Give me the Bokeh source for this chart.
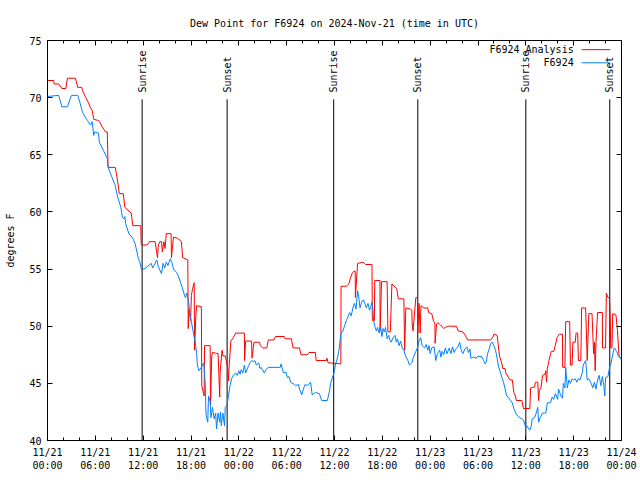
from math import pi
from bokeh.plotting import figure
from bokeh.models import (FixedTicker, LinearAxis, Range1d, Label)
from bokeh.embed import file_html
from bokeh.resources import INLINE

# ---------------- data (hours since 2024-11-21 00:00 UTC, degrees F) -------------
obs_hours = [0.0, 1.4, 1.8, 2.5, 3.0, 3.8, 4.1, 4.4, 5.0, 5.4, 5.6, 5.8, 5.9, 6.4, 6.5, 7.0, 7.5, 7.6,
             8.1, 8.5, 8.8, 9.2, 9.4, 9.6, 9.7, 9.8, 10.2, 10.7, 11.0, 11.4, 11.6, 11.8, 12.3, 13.0,
             13.2, 13.7, 13.9, 14.3, 14.5, 14.7, 14.9, 15.1, 15.4, 15.6, 15.8, 16.2, 16.4, 16.7, 16.9,
             17.1, 17.3, 17.5, 17.7, 17.9, 18.1, 18.3, 18.5, 18.7, 18.8, 19.0, 19.3, 19.6, 19.8, 19.85,
             19.9, 20.1, 20.2, 20.4, 20.5, 20.7, 20.9, 21.1, 21.2, 21.4, 21.6, 21.7, 21.8, 22.0, 22.2,
             22.3, 22.5, 22.7, 22.9, 23.1, 23.3, 23.6, 23.8, 24.0, 24.15, 24.3, 24.5, 24.7, 24.85, 25.2,
             25.4, 25.6, 25.8, 26.0, 26.2, 26.5, 26.65, 26.8, 27.2, 27.4, 27.7, 29.2, 29.3, 29.6, 29.9,
             30.1, 30.3, 30.5, 31.0, 31.1, 31.5, 31.6, 31.9, 32.1, 32.3, 32.6, 33.0, 33.2, 33.6, 34.1,
             34.4, 35.1, 35.4, 35.5, 35.7, 36.0, 36.1, 36.4, 36.6, 36.8, 37.0, 37.3, 37.5, 37.9, 38.1,
             38.3, 38.5, 38.7, 38.9, 39.05, 39.2, 39.4, 39.6, 39.8, 40.0, 40.2, 40.4, 40.55, 40.7, 40.8,
             40.9, 41.1, 41.25, 41.4, 41.6, 41.8, 41.95, 42.1, 42.25, 42.4, 42.6, 42.8, 42.95, 43.1,
             43.35, 43.6, 43.75, 43.9, 44.1, 44.3, 44.5, 44.7, 44.9, 45.2, 45.4, 45.7, 45.9, 46.2, 46.4,
             46.6, 46.8, 47.0, 47.3, 47.5, 47.7, 47.85, 48.0, 48.2, 48.5, 48.7, 48.9, 49.2, 49.35, 49.5,
             49.7, 49.9, 50.1, 50.4, 50.6, 50.8, 51.0, 51.2, 51.5, 51.7, 51.9, 52.1, 52.35, 52.6, 52.8,
             53.0, 53.1, 53.4, 53.8, 54.0, 54.3, 54.4, 54.7, 54.9, 55.05, 55.2, 55.4, 55.6, 55.8, 56.0,
             56.2, 56.4, 56.6, 56.8, 57.0, 57.2, 57.4, 57.6, 57.9, 58.0, 58.3, 58.5, 58.8, 59.2, 59.5,
             59.7, 60.0, 60.1, 60.3, 60.5, 60.7, 60.8, 61.1, 61.3, 61.5, 61.6, 61.8, 62.1, 62.5, 62.7,
             63.1, 63.3, 63.5, 63.7, 64.0, 64.1, 64.4, 64.6, 64.7, 64.9, 65.0, 65.2, 65.4, 65.6, 65.8,
             66.0, 66.2, 66.4, 66.6, 66.8, 67.1, 67.2, 67.5, 67.6, 67.7, 67.9, 68.2, 68.4, 68.6, 68.8,
             69.0, 69.2, 69.4, 69.6, 69.8, 69.9, 70.0, 70.3, 70.5, 70.7, 71.0, 71.1, 71.4, 71.6, 71.9,
             72.0]
obs_dewpt = [70.1, 70.2, 69.2, 69.2, 70.2, 70.2, 69.5, 68.7, 68.0, 67.6, 67.9, 66.7, 67.0, 66.9, 66.1,
             65.4, 64.7, 63.9, 63.0, 62.3, 61.3, 60.4, 59.5, 59.4, 59.6, 59.0, 58.1, 57.7, 57.2, 55.9,
             55.6, 54.9, 55.1, 55.5, 55.1, 55.8, 55.2, 54.6, 55.5, 55.1, 55.6, 55.3, 55.9, 55.6, 55.0,
             54.7, 54.4, 53.8, 53.4, 52.9, 52.5, 52.9, 52.1, 50.9, 50.2, 49.4, 48.7, 47.7, 46.6, 46.1,
             46.4, 46.8, 44.8, 43.1, 42.2, 41.6, 43.9, 43.4, 42.0, 42.9, 41.9, 42.4, 41.0, 42.4, 41.6,
             42.5, 41.3, 42.4, 41.3, 42.9, 43.1, 43.9, 44.8, 45.4, 45.7, 45.9, 45.7, 46.1, 45.8, 46.2,
             45.9, 46.6, 45.9, 46.5, 46.8, 47.0, 46.9, 47.0, 46.6, 46.8, 46.3, 46.4, 45.9, 46.2, 46.4,
             46.4, 46.7, 45.9, 46.0, 45.5, 45.6, 45.1, 44.9, 44.8, 44.9, 44.5, 44.0, 44.5, 44.9, 44.8,
             45.1, 44.0, 44.2, 44.1, 43.5, 43.5, 44.4, 45.0, 45.4, 46.1, 46.6, 47.3, 48.1, 49.4, 49.5,
             50.1, 50.5, 51.2, 50.9, 51.6, 52.0, 51.5, 53.1, 52.5, 51.6, 52.1, 52.3, 52.0, 51.6, 52.0,
             51.4, 51.7, 52.1, 51.7, 50.5, 49.9, 49.6, 49.9, 49.4, 49.9, 49.1, 49.8, 49.5, 49.9, 48.9,
             49.2, 48.8, 48.6, 49.0, 49.2, 48.6, 48.9, 48.3, 48.7, 48.1, 47.9, 47.4, 47.0, 46.6, 46.8,
             47.3, 47.8, 48.1, 48.7, 49.0, 48.3, 48.1, 48.4, 47.9, 48.3, 47.6, 48.1, 48.2, 47.0, 47.6,
             47.9, 47.3, 47.8, 47.5, 48.1, 47.6, 48.1, 47.6, 48.2, 47.7, 48.0, 48.2, 48.6, 47.9, 47.6,
             48.0, 48.2, 47.7, 48.0, 47.2, 47.3, 47.2, 47.4, 47.3, 47.4, 47.0, 46.7, 46.9, 47.6, 48.0,
             48.5, 48.6, 48.3, 47.9, 47.2, 46.4, 46.0, 45.5, 45.1, 44.5, 43.9, 43.7, 43.6, 43.3, 42.8,
             42.3, 42.0, 41.9, 41.8, 41.1, 41.3, 41.1, 40.9, 41.3, 41.9, 42.0, 42.4, 42.9, 41.6, 42.0,
             42.4, 42.4, 43.3, 43.3, 43.8, 43.6, 44.1, 43.6, 44.5, 43.9, 43.7, 45.0, 44.6, 46.4, 44.6,
             45.3, 45.0, 45.4, 45.3, 45.4, 45.1, 45.4, 45.3, 46.0, 46.6, 47.0, 46.2, 45.3, 45.4, 45.0,
             44.6, 45.1, 44.5, 45.3, 45.7, 44.8, 45.6, 44.7, 43.9, 45.5, 45.6, 46.4, 46.8, 47.9, 48.1,
             47.8, 47.4, 47.2, 47.0]

ana_hours = [0.0, 0.8, 0.8, 1.4, 1.8, 2.3, 2.5, 3.5, 3.8, 4.3, 4.4, 4.8, 5.1, 5.4, 5.6, 5.8, 6.4, 6.6,
             6.9, 7.3, 7.5, 7.6, 8.5, 8.8, 9.0, 9.5, 9.7, 10.5, 10.7, 11.7, 11.75, 11.8, 12.5, 12.8,
             13.5, 13.8, 13.9, 14.1, 14.3, 14.4, 14.6, 14.75, 14.9, 15.5, 15.55, 15.8, 16.3, 16.8,
             16.95, 17.6, 17.65, 17.75, 17.95, 18.05, 18.2, 18.4, 18.45, 18.6, 18.7, 19.3, 19.35,
             19.65, 19.7, 20.4, 20.45, 20.6, 20.7, 21.4, 21.6, 21.65, 21.9, 22.0, 22.3, 22.6, 22.7,
             22.8, 23.0, 23.3, 23.6, 24.7, 24.72, 24.8, 24.85, 25.6, 25.65, 25.9, 26.6, 26.7, 27.0,
             27.5, 27.7, 28.4, 28.6, 29.7, 29.8, 30.6, 30.8, 31.6, 31.8, 32.6, 32.8, 33.6, 33.7, 35.0,
             35.05, 35.2, 36.8, 36.82, 37.5, 37.8, 38.0, 38.2, 38.4, 38.6, 38.62, 38.9, 39.6, 39.9,
             40.7, 40.75, 41.0, 41.05, 41.7, 41.72, 41.9, 42.6, 42.7, 43.0, 43.2, 43.8, 44.0, 44.7,
             44.8, 44.95, 45.5, 45.7, 45.75, 45.85, 46.0, 46.2, 46.4, 46.45, 46.6, 46.75, 46.85, 47.2,
             47.7, 47.8, 48.2, 48.4, 48.6, 48.62, 48.8, 49.0, 49.3, 49.7, 49.9, 50.3, 51.3, 51.5, 52.1,
             52.4, 52.7, 55.6, 55.9, 56.0, 56.4, 56.5, 56.7, 57.0, 57.1, 57.4, 57.5, 58.0, 58.3, 58.5,
             58.7, 58.8, 59.5, 59.7, 60.5, 60.6, 61.1, 61.2, 61.5, 61.6, 61.7, 61.9, 62.1, 62.4, 62.5,
             62.6, 62.7, 63.0, 63.2, 63.5, 63.7, 63.9, 64.2, 64.6, 64.62, 64.9, 65.0, 65.5, 65.6, 65.8,
             65.9, 66.2, 66.3, 66.5, 66.6, 66.9, 67.0, 67.5, 67.7, 67.9, 68.3, 68.5, 68.6, 68.7, 68.8,
             69.0, 69.6, 69.62, 70.0, 70.1, 70.3, 70.5, 70.6, 70.65, 70.8, 70.9, 71.3, 71.5, 71.7, 72.0]
ana_dewpt = [71.5, 71.5, 71.2, 71.2, 70.8, 70.8, 71.7, 71.7, 70.9, 70.9, 70.6, 70.0, 69.6, 69.1, 68.9,
             68.1, 68.0, 67.8, 67.4, 67.0, 67.0, 63.9, 63.9, 62.7, 61.6, 61.6, 60.4, 59.9, 58.8, 58.8,
             57.2, 57.1, 57.1, 57.4, 57.4, 56.0, 57.1, 57.4, 57.4, 56.5, 57.4, 56.8, 58.1, 58.1, 56.0,
             57.8, 57.7, 57.4, 56.0, 55.8, 49.8, 51.5, 50.5, 52.7, 53.3, 53.8, 47.9, 50.8, 51.8, 51.7,
             44.8, 43.9, 48.3, 48.3, 43.1, 47.4, 47.7, 47.6, 43.8, 45.9, 47.9, 47.4, 47.4, 46.4, 45.2,
             46.7, 48.7, 49.0, 49.4, 49.4, 47.0, 48.1, 48.7, 48.7, 47.2, 48.6, 48.6, 48.3, 48.1, 48.1,
             48.8, 48.8, 49.1, 49.1, 48.9, 48.9, 48.1, 48.1, 47.5, 47.5, 47.7, 47.7, 47.0, 47.0, 47.2,
             46.8, 46.7, 53.5, 53.5, 53.7, 54.2, 54.6, 54.8, 54.8, 52.5, 55.5, 55.6, 55.4, 55.4, 50.5,
             50.5, 54.0, 54.0, 49.6, 53.9, 53.9, 49.5, 49.5, 53.7, 53.3, 52.4, 52.4, 47.9, 51.6, 51.5,
             51.4, 50.1, 49.6, 50.8, 52.5, 52.5, 49.4, 52.0, 49.4, 51.8, 51.6, 51.6, 51.2, 51.1, 50.5,
             50.2, 48.5, 50.2, 50.3, 50.1, 49.8, 49.9, 50.0, 50.0, 49.6, 49.5, 49.2, 48.8, 48.8, 49.1,
             49.3, 49.2, 48.6, 47.4, 46.7, 46.3, 46.3, 45.9, 45.3, 45.3, 44.2, 43.9, 43.5, 43.5, 42.8,
             42.8, 44.6, 44.7, 45.1, 45.1, 43.5, 44.4, 44.6, 45.7, 45.8, 46.1, 45.1, 46.3, 47.3, 47.8,
             47.8, 48.3, 49.0, 49.3, 49.3, 46.4, 46.4, 50.4, 50.4, 46.6, 46.6, 48.6, 48.6, 49.4, 49.4,
             47.0, 47.0, 51.6, 51.6, 47.0, 51.1, 51.1, 47.6, 48.6, 46.1, 48.6, 51.2, 51.2, 48.1, 48.1,
             52.9, 52.5, 52.5, 50.2, 48.1, 48.1, 51.1, 51.0, 49.6, 47.3, 47.2]

sun_hours = [11.87, 22.53, 35.9, 46.45, 60.0, 70.53]
sun_names = ["Sunrise", "Sunset", "Sunrise", "Sunset", "Sunrise", "Sunset"]

x_ticks = [0, 6, 12, 18, 24, 30, 36, 42, 48, 54, 60, 66, 72]
x_tick_labels = ["11/21\n00:00", "11/21\n06:00", "11/21\n12:00", "11/21\n18:00",
                 "11/22\n00:00", "11/22\n06:00", "11/22\n12:00", "11/22\n18:00",
                 "11/23\n00:00", "11/23\n06:00", "11/23\n12:00", "11/23\n18:00",
                 "11/24\n00:00"]
x_minor = list(range(0, 73, 2))
y_ticks = [40, 45, 50, 55, 60, 65, 70, 75]

series_names = ["F6924 Analysis", "F6924"]
series_colors = ["#ff0000", "#0080ff"]

# ---------------- figure -------------------------------------------------------
FONT = "DejaVu Sans Mono"
FS = "10px"
X_MIN, X_MAX, Y_MIN, Y_MAX = 0, 72, 40, 75

p = figure(width=640, height=480, output_backend="svg", toolbar_location=None,
           x_range=Range1d(X_MIN, X_MAX), y_range=Range1d(Y_MIN, Y_MAX),
           min_border_left=47, min_border_right=19, min_border_top=40, min_border_bottom=40,
           title="Dew Point for F6924 on 2024-Nov-21 (time in UTC)")
p.title.align = "center"
p.title.text_font = FONT
p.title.text_font_size = FS
p.title.text_font_style = "normal"
p.title.text_color = "black"
p.title.standoff = 23
p.grid.visible = False
p.outline_line_color = "black"
p.outline_line_width = 1
p.background_fill_color = "white"
p.border_fill_color = "white"

def style_axis(ax, show_labels):
    ax.axis_line_color = None
    ax.major_tick_in = 5
    ax.major_tick_out = 0
    ax.minor_tick_in = 3
    ax.minor_tick_out = 0
    ax.major_tick_line_color = "black"
    ax.minor_tick_line_color = "black"
    ax.major_label_text_font = FONT
    if show_labels:
        ax.major_label_text_font_size = FS
        ax.major_label_text_color = "black"
    else:
        ax.major_label_text_font_size = "1px"
        ax.major_label_text_color = None
        ax.major_label_standoff = 0
        ax.axis_label_standoff = 0

overrides = {t: lab for t, lab in zip(x_ticks, x_tick_labels)}

xb = p.xaxis[0]
xb.ticker = FixedTicker(ticks=x_ticks, minor_ticks=x_minor)
xb.major_label_overrides = overrides
style_axis(xb, True)
xb.major_label_standoff = 6

yl = p.yaxis[0]
yl.ticker = FixedTicker(ticks=y_ticks)
style_axis(yl, True)
yl.major_label_standoff = 6
yl.axis_label = "degrees F"
yl.axis_label_text_font = FONT
yl.axis_label_text_font_size = FS
yl.axis_label_text_font_style = "normal"
yl.axis_label_text_color = "black"
yl.axis_label_standoff = 10

xt = LinearAxis(ticker=FixedTicker(ticks=x_ticks, minor_ticks=x_minor))
style_axis(xt, False)
p.add_layout(xt, "above")
yr = LinearAxis(ticker=FixedTicker(ticks=y_ticks))
style_axis(yr, False)
p.add_layout(yr, "right")

# sunrise / sunset markers
LINE_TOP = 69.85
LABEL_Y = 70.45
p.segment(x0=sun_hours, y0=[Y_MIN] * len(sun_hours), x1=sun_hours, y1=[LINE_TOP] * len(sun_hours),
          line_color="black", line_width=1)
for t, name in zip(sun_hours, sun_names):
    p.add_layout(Label(x=t, y=LABEL_Y, text=name, angle=pi / 2, text_align="left",
                       text_baseline="middle", text_font=FONT, text_font_size=FS,
                       text_color="black"))

# data series
p.line(ana_hours, ana_dewpt, line_color=series_colors[0], line_width=1)
p.line(obs_hours, obs_dewpt, line_color=series_colors[1], line_width=1)

# gnuplot-style key (text right-aligned, sample line to its right)
KEY_TEXT_X = 66.0
KEY_LINE_X0, KEY_LINE_X1 = 67.0, 70.6
KEY_ROWS_Y = [74.2, 73.05]
for name, col, ky in zip(series_names, series_colors, KEY_ROWS_Y):
    p.add_layout(Label(x=KEY_TEXT_X, y=ky, text=name, text_align="right", text_baseline="middle",
                       text_font=FONT, text_font_size=FS, text_color="black"))
    p.line([KEY_LINE_X0, KEY_LINE_X1], [ky, ky], line_color=col, line_width=1)

open("out.html", "w").write(file_html(p, INLINE))
